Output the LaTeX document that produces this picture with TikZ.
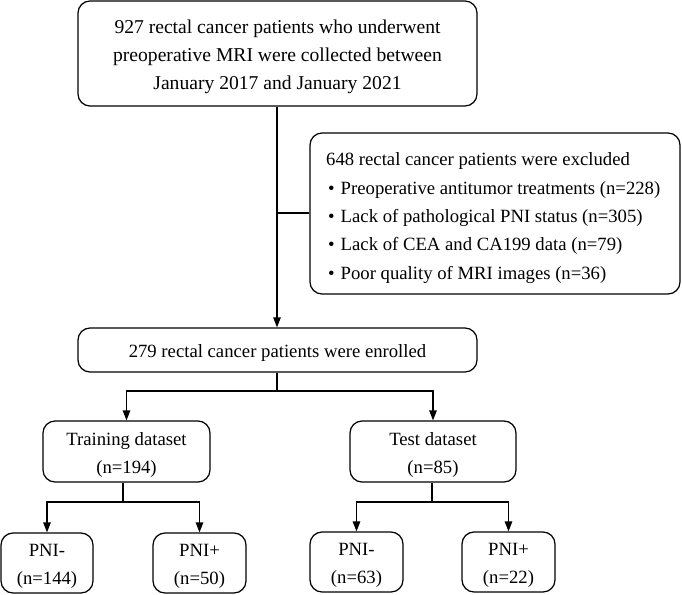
\documentclass[tikz,border=0pt]{standalone}
\usepackage{fontspec}
\setmainfont{Liberation Serif}
\usetikzlibrary{arrows.meta}
\begin{document}
\begin{tikzpicture}[x=1pt,y=-1pt,
  box/.style={draw,line width=1.25pt,rounded corners=12pt,inner sep=0pt,align=center,
    font=\fontsize{18.7}{28}\selectfont},
  conn/.style={line width=1.25pt},
  arr/.style={line width=1.25pt,-{Triangle[length=10pt,width=7.5pt]}}]
\useasboundingbox (0,0) rectangle (682,594);
\node[box,minimum width=399pt,minimum height=105pt,font=\fontsize{19.6}{28}\selectfont] (top) at (277.5,53.5) {};
\node[inner sep=0pt,align=center,font=\fontsize{19.6}{28}\selectfont] (toptext) at (277.5,57)
  {927 rectal cancer patients who underwent\\preoperative MRI were collected between\\January 2017 and January 2021};
\node[box,minimum width=370pt,minimum height=161pt] (excl) at (495,213.5) {};
\node[anchor=west,inner sep=0pt,align=left,font=\fontsize{18.7}{28.3}\selectfont] (excltext) at (326,218)
  {648 rectal cancer patients were excluded\\
   \hspace*{2pt}\textbullet\hspace{6pt}Preoperative antitumor treatments (n=228)\\
   \hspace*{2pt}\textbullet\hspace{6pt}Lack of pathological PNI status (n=305)\\
   \hspace*{2pt}\textbullet\hspace{6pt}Lack of CEA and CA199 data (n=79)\\
   \hspace*{2pt}\textbullet\hspace{6pt}Poor quality of MRI images (n=36)};
\node[box,minimum width=399pt,minimum height=44pt] (enr) at (277.5,350) {};
\node[inner sep=0pt,font=\fontsize{18.7}{28}\selectfont] (enrtext) at (277.5,353) {279 rectal cancer patients were enrolled};
\node[box,minimum width=167pt,minimum height=61pt] (train) at (126.5,451.5) {};
\node[inner sep=0pt,align=center,font=\fontsize{18.7}{28}\selectfont] at (126.5,454.5) {Training dataset\\(n=194)};
\node[box,minimum width=166pt,minimum height=61pt] (test) at (433,451.5) {};
\node[inner sep=0pt,align=center,font=\fontsize{18.7}{28}\selectfont] at (433,454.5) {Test dataset\\(n=85)};
\node[box,minimum width=92pt,minimum height=60pt] (trm) at (47,563) {};
\node[inner sep=0pt,align=center,font=\fontsize{18.7}{28}\selectfont] at (47,566) {PNI-\\(n=144)};
\node[box,minimum width=93pt,minimum height=60pt] (trp) at (199.5,563) {};
\node[inner sep=0pt,align=center,font=\fontsize{18.7}{28}\selectfont] at (199.5,566) {PNI+\\(n=50)};
\node[box,minimum width=93pt,minimum height=60pt] (tem) at (356.5,562) {};
\node[inner sep=0pt,align=center,font=\fontsize{18.7}{28}\selectfont] at (356.5,565) {PNI-\\(n=63)};
\node[box,minimum width=93pt,minimum height=60pt] (tep) at (508.5,562) {};
\node[inner sep=0pt,align=center,font=\fontsize{18.7}{28}\selectfont] at (508.5,565) {PNI+\\(n=22)};
% connectors
\coordinate (j1) at (277,213);
\draw[arr] (top.south -| j1) -- (enr.north -| j1);
\draw[conn] (j1) -- (excl.west |- j1);
\coordinate (j2) at (277,391);
\draw[conn] (enr.south -| j2) -- (j2);
\draw[arr] (j2) -| (train.north);
\draw[arr] (j2) -| (test.north);
\coordinate (j3) at (123,502);
\draw[conn] (train.south -| j3) -- (j3);
\draw[arr] (j3) -| (trm.north);
\draw[arr] (j3) -| (trp.north);
\coordinate (j4) at (432,502);
\draw[conn] (test.south -| j4) -- (j4);
\draw[arr] (j4) -| (tem.north);
\draw[arr] (j4) -| (tep.north);
\end{tikzpicture}
\end{document}
